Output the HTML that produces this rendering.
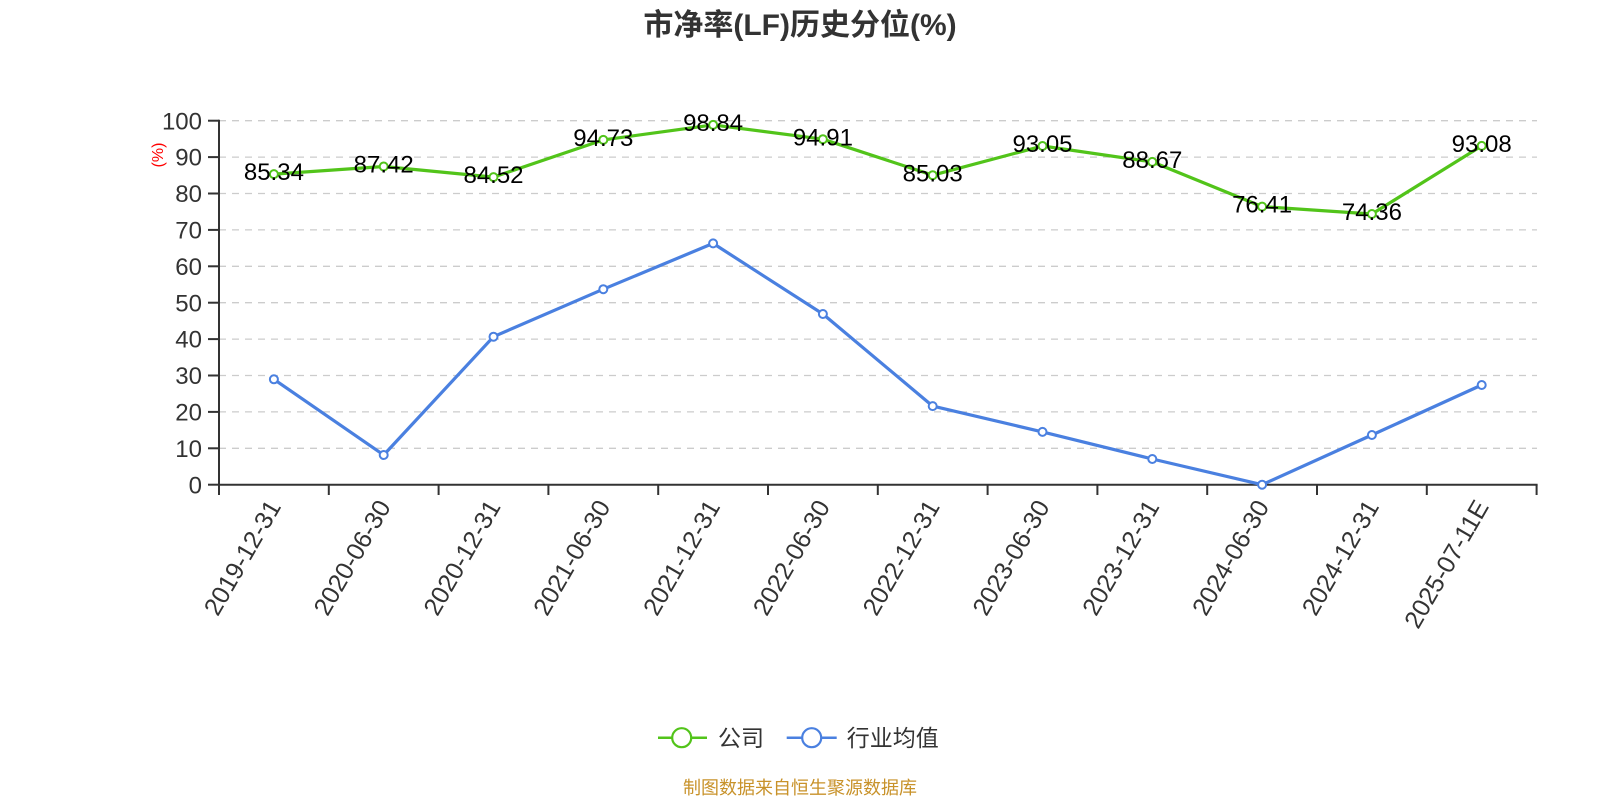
<!DOCTYPE html>
<html><head><meta charset="utf-8"><style>
html,body{margin:0;padding:0;background:#fff;}
svg{display:block;}
text{font-family:"Liberation Sans","Noto Sans CJK SC",sans-serif;}
</style></head><body>
<svg width="1600" height="800" viewBox="0 0 1600 800" xmlns="http://www.w3.org/2000/svg">
<rect width="1600" height="800" fill="#fff"/>
<text x="800" y="35" text-anchor="middle" font-size="30" font-weight="bold" fill="#333">市净率(LF)历史分位(%)</text>
<g stroke="#cccccc" stroke-width="1.3" stroke-dasharray="7 6">
<line x1="219" y1="120.7" x2="1537" y2="120.7"/>
<line x1="219" y1="157.1" x2="1537" y2="157.1"/>
<line x1="219" y1="193.5" x2="1537" y2="193.5"/>
<line x1="219" y1="229.9" x2="1537" y2="229.9"/>
<line x1="219" y1="266.3" x2="1537" y2="266.3"/>
<line x1="219" y1="302.7" x2="1537" y2="302.7"/>
<line x1="219" y1="339.1" x2="1537" y2="339.1"/>
<line x1="219" y1="375.5" x2="1537" y2="375.5"/>
<line x1="219" y1="411.9" x2="1537" y2="411.9"/>
<line x1="219" y1="448.3" x2="1537" y2="448.3"/>
</g>
<g stroke="#333" stroke-width="2">
<line x1="219" y1="119.7" x2="219" y2="485.7"/>
<line x1="218" y1="484.7" x2="1537.6" y2="484.7"/>
<line x1="208" y1="120.7" x2="219" y2="120.7"/>
<line x1="208" y1="157.1" x2="219" y2="157.1"/>
<line x1="208" y1="193.5" x2="219" y2="193.5"/>
<line x1="208" y1="229.9" x2="219" y2="229.9"/>
<line x1="208" y1="266.3" x2="219" y2="266.3"/>
<line x1="208" y1="302.7" x2="219" y2="302.7"/>
<line x1="208" y1="339.1" x2="219" y2="339.1"/>
<line x1="208" y1="375.5" x2="219" y2="375.5"/>
<line x1="208" y1="411.9" x2="219" y2="411.9"/>
<line x1="208" y1="448.3" x2="219" y2="448.3"/>
<line x1="208" y1="484.7" x2="219" y2="484.7"/>
<line x1="219" y1="484.7" x2="219" y2="495"/>
<line x1="328.8" y1="484.7" x2="328.8" y2="495"/>
<line x1="438.6" y1="484.7" x2="438.6" y2="495"/>
<line x1="548.4" y1="484.7" x2="548.4" y2="495"/>
<line x1="658.2" y1="484.7" x2="658.2" y2="495"/>
<line x1="768" y1="484.7" x2="768" y2="495"/>
<line x1="877.8" y1="484.7" x2="877.8" y2="495"/>
<line x1="987.6" y1="484.7" x2="987.6" y2="495"/>
<line x1="1097.4" y1="484.7" x2="1097.4" y2="495"/>
<line x1="1207.2" y1="484.7" x2="1207.2" y2="495"/>
<line x1="1317" y1="484.7" x2="1317" y2="495"/>
<line x1="1426.8" y1="484.7" x2="1426.8" y2="495"/>
<line x1="1536.6" y1="484.7" x2="1536.6" y2="495"/>
</g>
<g font-size="24" fill="#333" text-anchor="end">
<text x="202" y="129.3">100</text>
<text x="202" y="165.7">90</text>
<text x="202" y="202.1">80</text>
<text x="202" y="238.5">70</text>
<text x="202" y="274.9">60</text>
<text x="202" y="311.3">50</text>
<text x="202" y="347.7">40</text>
<text x="202" y="384.1">30</text>
<text x="202" y="420.5">20</text>
<text x="202" y="456.9">10</text>
<text x="202" y="493.3">0</text>
</g>
<text transform="translate(163,155) rotate(-90)" text-anchor="middle" font-size="16" fill="#ff0000">(%)</text>
<g font-size="25" fill="#333" text-anchor="end">
<text transform="translate(273.9,502) rotate(-60)" dy="9">2019-12-31</text>
<text transform="translate(383.7,502) rotate(-60)" dy="9">2020-06-30</text>
<text transform="translate(493.5,502) rotate(-60)" dy="9">2020-12-31</text>
<text transform="translate(603.3,502) rotate(-60)" dy="9">2021-06-30</text>
<text transform="translate(713.1,502) rotate(-60)" dy="9">2021-12-31</text>
<text transform="translate(822.9,502) rotate(-60)" dy="9">2022-06-30</text>
<text transform="translate(932.7,502) rotate(-60)" dy="9">2022-12-31</text>
<text transform="translate(1042.5,502) rotate(-60)" dy="9">2023-06-30</text>
<text transform="translate(1152.3,502) rotate(-60)" dy="9">2023-12-31</text>
<text transform="translate(1262.1,502) rotate(-60)" dy="9">2024-06-30</text>
<text transform="translate(1371.9,502) rotate(-60)" dy="9">2024-12-31</text>
<text transform="translate(1481.7,502) rotate(-60)" dy="9">2025-07-11E</text>
</g>
<polyline fill="none" stroke="#4a80e0" stroke-width="3.2" stroke-linejoin="round" points="273.9,379.3 383.7,455 493.5,336.7 603.3,289.2 713.1,243.4 822.9,314 932.7,406.1 1042.5,431.9 1152.3,459 1262.1,484.7 1371.9,435 1481.7,385"/>
<g fill="#fff" stroke="#4a80e0" stroke-width="2">
<circle cx="273.9" cy="379.3" r="4"/><circle cx="383.7" cy="455" r="4"/><circle cx="493.5" cy="336.7" r="4"/><circle cx="603.3" cy="289.2" r="4"/><circle cx="713.1" cy="243.4" r="4"/><circle cx="822.9" cy="314" r="4"/><circle cx="932.7" cy="406.1" r="4"/><circle cx="1042.5" cy="431.9" r="4"/><circle cx="1152.3" cy="459" r="4"/><circle cx="1262.1" cy="484.7" r="4"/><circle cx="1371.9" cy="435" r="4"/><circle cx="1481.7" cy="385" r="4"/>
</g>
<polyline fill="none" stroke="#52c41a" stroke-width="3.2" stroke-linejoin="round" points="273.9,174.1 383.7,166.5 493.5,177.1 603.3,139.9 713.1,124.9 822.9,139.2 932.7,175.2 1042.5,146 1152.3,161.9 1262.1,206.6 1371.9,214 1481.7,145.9"/>
<g fill="#fff" stroke="#52c41a" stroke-width="2">
<circle cx="273.9" cy="174.1" r="4"/><circle cx="383.7" cy="166.5" r="4"/><circle cx="493.5" cy="177.1" r="4"/><circle cx="603.3" cy="139.9" r="4"/><circle cx="713.1" cy="124.9" r="4"/><circle cx="822.9" cy="139.2" r="4"/><circle cx="932.7" cy="175.2" r="4"/><circle cx="1042.5" cy="146" r="4"/><circle cx="1152.3" cy="161.9" r="4"/><circle cx="1262.1" cy="206.6" r="4"/><circle cx="1371.9" cy="214" r="4"/><circle cx="1481.7" cy="145.9" r="4"/>
</g>
<g font-size="24" fill="#000" text-anchor="middle">
<text x="273.9" y="180.2">85.34</text>
<text x="383.7" y="172.6">87.42</text>
<text x="493.5" y="183.2">84.52</text>
<text x="603.3" y="146">94.73</text>
<text x="713.1" y="131">98.84</text>
<text x="822.9" y="145.3">94.91</text>
<text x="932.7" y="181.3">85.03</text>
<text x="1042.5" y="152.1">93.05</text>
<text x="1152.3" y="168">88.67</text>
<text x="1262.1" y="212.7">76.41</text>
<text x="1371.9" y="220.1">74.36</text>
<text x="1481.7" y="152">93.08</text>
</g>
<line x1="658" y1="737.7" x2="707" y2="737.7" stroke="#52c41a" stroke-width="2.5"/>
<circle cx="681.7" cy="737.7" r="9.5" fill="#fff" stroke="#52c41a" stroke-width="2.2"/>
<text x="718" y="745.8" font-size="23" fill="#333">公司</text>
<line x1="786.7" y1="737.7" x2="836.7" y2="737.7" stroke="#4a80e0" stroke-width="2.5"/>
<circle cx="811.7" cy="737.7" r="9.5" fill="#fff" stroke="#4a80e0" stroke-width="2.2"/>
<text x="846.7" y="745.8" font-size="23" fill="#333">行业均值</text>
<text x="800" y="794" text-anchor="middle" font-size="18" fill="#c8922a">制图数据来自恒生聚源数据库</text>
</svg>
</body></html>
